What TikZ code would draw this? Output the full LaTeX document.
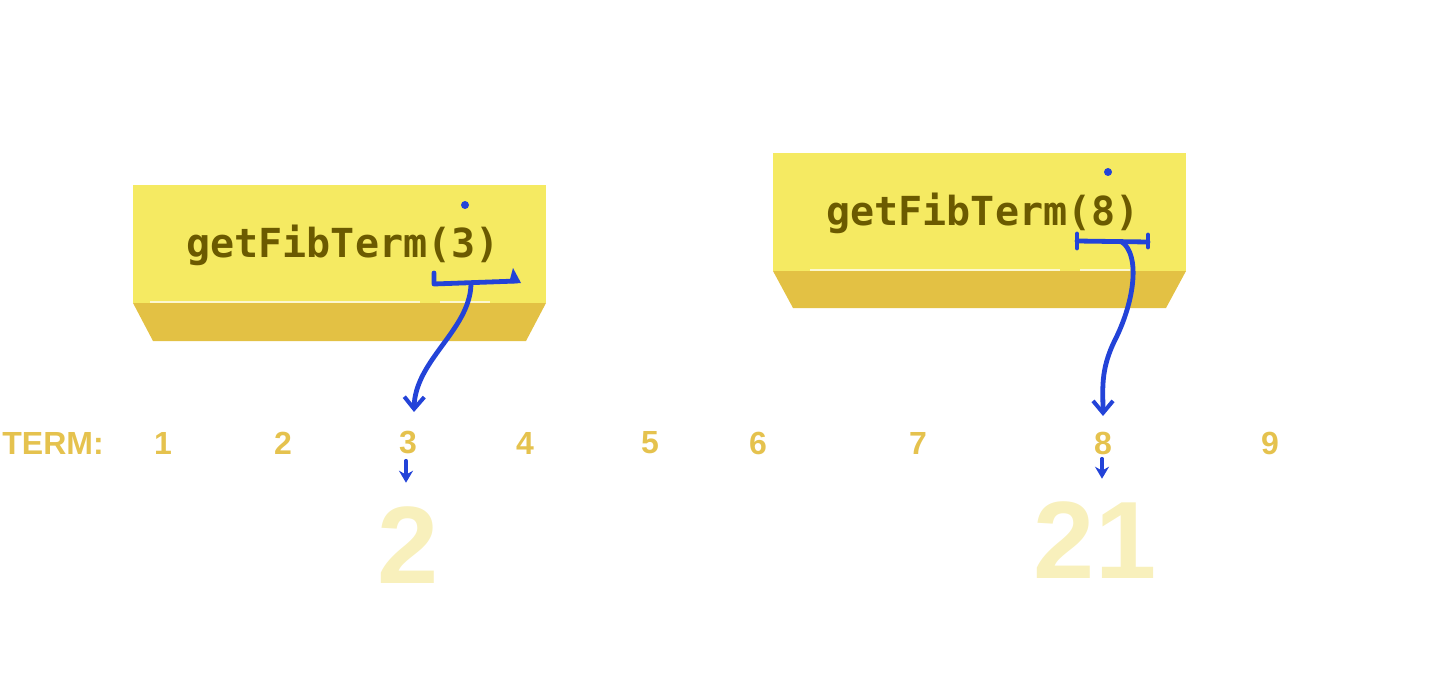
\documentclass[tikz,border=0pt]{standalone}
\usepackage{fontspec}
\setmainfont{Liberation Sans}
\setmonofont{DejaVu Sans Mono}
\usetikzlibrary{arrows.meta}
\definecolor{topface}{HTML}{F5EA62}
\definecolor{sideface}{HTML}{E3C144}
\definecolor{codetext}{HTML}{6B5A00}
\definecolor{pen}{HTML}{2343D8}
\definecolor{chalk}{HTML}{E5C24E}
\definecolor{pale}{HTML}{F8F0BC}
\tikzset{
  top/.style={fill=topface, draw=none},
  side/.style={fill=sideface, draw=none},
  code/.style={text=codetext, font=\ttfamily\bfseries\fontsize{20}{24}\selectfont, inner sep=0pt},
  term/.style={text=chalk, font=\bfseries\fontsize{16}{18}\selectfont, inner sep=0pt},
  big/.style={text=pale, font=\bfseries\fontsize{55}{60}\selectfont, inner sep=0pt},
  penline/.style={draw=pen, line width=2.4pt, line cap=round, line join=round},
  bigarrow/.style={penline, -{Straight Barb[length=6pt,width=10pt,line width=2pt]}},
  smallarrow/.style={penline, line width=1.8pt, -{Stealth[length=6pt,width=7pt]}},
}
\begin{document}
\begin{tikzpicture}[x=0.5pt,y=-0.5pt]
\useasboundingbox (0,0) rectangle (1433,695);
% box 1
\path[top] (133,185) rectangle (546,303);
\path[side] (133,303) -- (546,303) -- (526,341) -- (153,341) -- cycle;
\draw[white, opacity=0.7, line width=1pt] (150,302) -- (420,302) (440,302) -- (490,302);
% box 2
\path[top] (773,153) rectangle (1186,271);
\path[side] (773,271) -- (1186,271) -- (1166,308) -- (793,308) -- cycle;
\draw[white, opacity=0.7, line width=1pt] (810,270) -- (1060,270) (1080,270) -- (1130,270);
% code texts
\node[code] (c1) at (343,245) {getFibTerm(3)};
\node[code] (c2) at (983,213) {getFibTerm(8)};
% term row
\node[term, anchor=west] (termlbl) at (2,443) {TERM:};
\node[term] (t1) at (163,443) {1};
\node[term] (t2) at (283,443) {2};
\node[term] (t3) at (408,443) {3};
\node[term] (t4) at (525,443) {4};
\node[term] (t5) at (650,443) {5};
\node[term] (t6) at (758,443) {6};
\node[term] (t7) at (918,443) {7};
\node[term] (t8) at (1103,443) {8};
\node[term] (t9) at (1270,443) {9};
% results
\node[big] (r1) at (408,545) {2};
\node[big] (r2) at (1095,540) {21};
% blue marks box 1
\fill[pen] (465,205) circle (4);
\draw[penline] (434,273) -- (434,284) -- (517,281);
\fill[pen] (509,283) -- (513,268) -- (521,283) -- cycle;
\coordinate (b1) at (471,284);
\coordinate (e1) at (414,412);
\draw[bigarrow] (b1) .. controls (470,330) and (415,360) .. (e1);
% blue marks box 2
\fill[pen] (1108,172) circle (4);
\draw[penline] (1077,234) -- (1077,248);
\draw[penline] (1148,235) -- (1148,247);
\draw[penline] (1077,241) -- (1148,242);
\coordinate (b2) at (1122,242);
\coordinate (e2) at (1103,416);
\draw[bigarrow] (b2) .. controls (1140,255) and (1135,300) .. (1115,340) .. controls (1100,370) and (1103,390) .. (e2);
% small arrows to results
\draw[smallarrow] (t3.south) ++(-2,6) -- ++(0,22) coordinate (s1);
\draw[smallarrow] (t8.south) ++(-1,4) -- ++(0,20) coordinate (s2);
\end{tikzpicture}
\end{document}
